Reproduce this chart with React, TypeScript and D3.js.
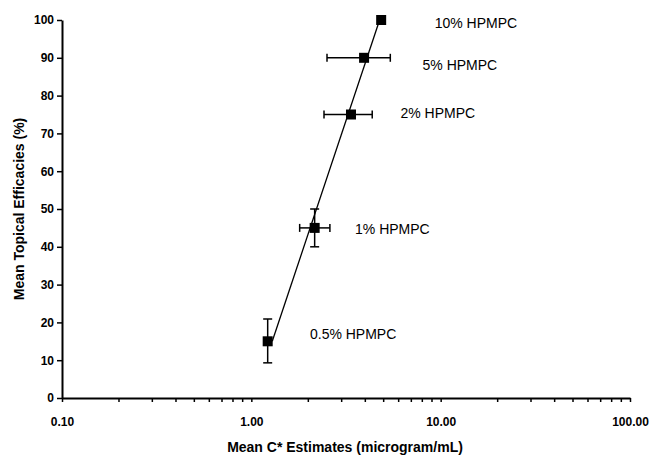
import React, { useRef, useEffect } from 'react';
import * as d3 from 'd3';

// HPMPC formulations, left to right
const categories = ['0.5% HPMPC', '1% HPMPC', '2% HPMPC', '5% HPMPC', '10% HPMPC'];
const cStar = [1.22, 2.16, 3.36, 3.94, 4.85];
const cStarLow = [1.19, 1.8, 2.42, 2.51, 4.7];
const cStarHigh = [1.25, 2.6, 4.35, 5.42, 5.02];
const efficacy = [15, 45, 75, 90, 100];
const efficacyLow = [9.3, 40, 75, 90, 100];
const efficacyHigh = [20.9, 50, 75, 90, 100];

// label anchor in data units
const labelX = [2.04, 3.53, 6.13, 8.02, 9.3];
const labelY = [16.8, 44.7, 75.3, 88.2, 99.2];

// fitted line end points
const fitX = [1.29, 4.76];
const fitY = [15, 100];

const xTicks = [0.1, 1, 10, 100];
const yTicks = [0, 10, 20, 30, 40, 50, 60, 70, 80, 90, 100];

const width = 650;
const height = 459;
const margin = { top: 20, right: 20, bottom: 61, left: 62 };

const App = () => {
  const svgRef = useRef<SVGSVGElement | null>(null);

  useEffect(() => {
    if (!svgRef.current) return;
    const svg = d3.select(svgRef.current);
    svg.selectAll('*').remove();

    const x = d3.scaleLog().domain([0.1, 100]).range([margin.left, width - margin.right]);
    const y = d3.scaleLinear().domain([0, 100]).range([height - margin.bottom, margin.top]);
    const font = 'Liberation Sans, Arial, sans-serif';

    // minor ticks on x
    const minor: number[] = [];
    for (const d of [0.1, 1, 10]) for (let k = 2; k <= 9; k++) minor.push(d * k);

    const xAxis = svg.append('g')
      .attr('transform', `translate(0,${y(0)})`)
      .call(d3.axisBottom(x).tickValues(xTicks).tickFormat(d3.format('.2f')).tickSizeInner(4).tickSizeOuter(0));
    xAxis.selectAll('g.minor')
      .data(minor)
      .enter()
      .append('line')
      .attr('x1', d => x(d))
      .attr('x2', d => x(d))
      .attr('y1', 0)
      .attr('y2', 4)
      .attr('stroke', '#000')
      .attr('stroke-width', 1.5);
    xAxis.select('.domain').attr('stroke-width', 2);
    xAxis.selectAll('.tick line').attr('stroke-width', 1.5);
    xAxis.selectAll('.tick text')
      .attr('dy', '1.1em')
      .attr('y', 15)
      .attr('font-size', 12)
      .attr('font-weight', 'bold')
      .attr('font-family', font);

    const yAxis = svg.append('g')
      .attr('transform', `translate(${margin.left},0)`)
      .call(d3.axisLeft(y).tickValues(yTicks).tickSizeInner(5).tickSizeOuter(0));
    yAxis.select('.domain').attr('stroke-width', 2);
    yAxis.selectAll('.tick line').attr('stroke-width', 1.5);
    yAxis.selectAll('.tick text')
      .attr('x', -8)
      .attr('font-size', 12)
      .attr('font-weight', 'bold')
      .attr('font-family', font);

    // axis titles
    svg.append('text')
      .attr('x', (margin.left + width - margin.right) / 2 - 1)
      .attr('y', 452)
      .attr('text-anchor', 'middle')
      .attr('font-size', 14)
      .attr('font-weight', 'bold')
      .attr('font-family', font)
      .text('Mean C* Estimates (microgram/mL)');

    svg.append('text')
      .attr('transform', `translate(24,${(y(0) + y(100)) / 2}) rotate(-90)`)
      .attr('text-anchor', 'middle')
      .attr('font-size', 14)
      .attr('font-weight', 'bold')
      .attr('font-family', font)
      .text('Mean Topical Efficacies (%)');

    // fitted line
    svg.append('line')
      .attr('x1', x(fitX[0]))
      .attr('y1', y(fitY[0]))
      .attr('x2', x(fitX[1]))
      .attr('y2', y(fitY[1]))
      .attr('stroke', '#000')
      .attr('stroke-width', 1.3);

    const g = svg.append('g');
    const cap = 4;
    categories.forEach((c, i) => {
      const cx = x(cStar[i]);
      const cy = y(efficacy[i]);
      // horizontal error bar
      const xl = x(cStarLow[i]);
      const xh = x(cStarHigh[i]);
      g.append('line').attr('x1', xl).attr('x2', xh).attr('y1', cy).attr('y2', cy)
        .attr('stroke', '#000').attr('stroke-width', 1.5);
      [xl, xh].forEach(v => {
        g.append('line').attr('x1', v).attr('x2', v).attr('y1', cy - cap).attr('y2', cy + cap)
          .attr('stroke', '#000').attr('stroke-width', 1.5);
      });
      // vertical error bar
      if (efficacyHigh[i] > efficacyLow[i]) {
        const yl = y(efficacyLow[i]);
        const yh = y(efficacyHigh[i]);
        g.append('line').attr('x1', cx).attr('x2', cx).attr('y1', yl).attr('y2', yh)
          .attr('stroke', '#000').attr('stroke-width', 1.5);
        [yl, yh].forEach(v => {
          g.append('line').attr('x1', cx - cap - 0.5).attr('x2', cx + cap + 0.5).attr('y1', v).attr('y2', v)
            .attr('stroke', '#000').attr('stroke-width', 1.5);
        });
      }
      g.append('rect')
        .attr('x', cx - 5)
        .attr('y', cy - 5)
        .attr('width', 10)
        .attr('height', 10)
        .attr('fill', '#000');

      g.append('text')
        .attr('x', x(labelX[i]))
        .attr('y', y(labelY[i]))
        .attr('dy', '0.35em')
        .attr('font-size', 14)
        .attr('font-family', font)
        .text(c);
    });
  }, []);

  return (
    <svg
      ref={svgRef}
      width={width}
      height={height}
      style={{ position: 'absolute', left: 0, top: 0, background: '#fff' }}
    ></svg>
  );
};

export default App;
